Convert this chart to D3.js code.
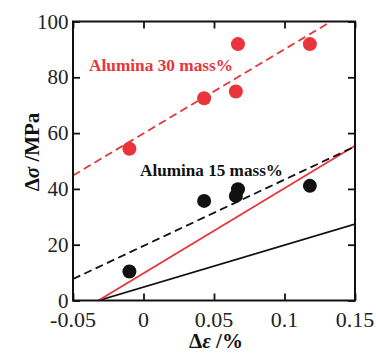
<!DOCTYPE html>
<html><head><meta charset="utf-8">
<script src="https://cdn.jsdelivr.net/npm/d3@7"></script>
<style>body{margin:0;background:#fff}</style>
</head><body>
<svg id="c" width="376" height="353"></svg>
<script>
const xTicks = [-0.05, 0, 0.05, 0.1, 0.15];
const yTicks = [0, 20, 40, 60, 80, 100];
const strain30 = [-0.010, 0.043, 0.0655, 0.067, 0.118];
const stress30 = [54.4, 72.5, 74.9, 91.9, 91.9];
const strain15 = [-0.010, 0.043, 0.0655, 0.067, 0.118];
const stress15 = [10.4, 35.7, 37.5, 39.9, 41.1];
// fit lines [x, y] endpoints
const fit30 = [[-0.05, 44.8], [0.133, 100]];
const fit15 = [[-0.05, 7.7], [0.15, 55.2]];
const model30 = [[-0.032, 0], [0.15, 55.5]];
const model15 = [[-0.032, 0], [0.15, 27.4]];

const red = "#e8343a";
const svg = d3.select("#c");
const m = {l:73, r:355, t:21.5, b:300.5};
const x = d3.scaleLinear().domain([-0.05, 0.15]).range([m.l, m.r]);
const y = d3.scaleLinear().domain([0, 100]).range([m.b, m.t]);
const font = "'Liberation Serif','Times New Roman',serif";

svg.append("clipPath").attr("id","pc").append("rect")
  .attr("x", m.l).attr("y", m.t).attr("width", m.r-m.l).attr("height", m.b-m.t);

const line = d3.line().x(d=>x(d[0])).y(d=>y(d[1]));
const g = svg.append("g").attr("clip-path","url(#pc)");
g.append("path").attr("d", line(model15)).attr("stroke","#111").attr("stroke-width",1.8).attr("fill","none");
g.append("path").attr("d", line(model30)).attr("stroke",red).attr("stroke-width",1.8).attr("fill","none");
g.append("path").attr("d", line(fit15)).attr("stroke","#111").attr("stroke-width",1.8).attr("fill","none").attr("stroke-dasharray","8,4.5");
g.append("path").attr("d", line(fit30)).attr("stroke",red).attr("stroke-width",1.8).attr("fill","none").attr("stroke-dasharray","8,4.5");

svg.append("g").selectAll("circle").data(d3.zip(strain15, stress15)).join("circle")
  .attr("cx", d=>x(d[0])).attr("cy", d=>y(d[1])).attr("r", 7).attr("fill","#111");
svg.append("g").selectAll("circle").data(d3.zip(strain30, stress30)).join("circle")
  .attr("cx", d=>x(d[0])).attr("cy", d=>y(d[1])).attr("r", 7).attr("fill",red);

// axes with inward ticks
const tl = 7;
const ax = [
  [d3.axisBottom(x), `translate(0,${m.b})`, xTicks],
  [d3.axisTop(x), `translate(0,${m.t})`, xTicks],
  [d3.axisLeft(y), `translate(${m.l},0)`, yTicks],
  [d3.axisRight(y), `translate(${m.r},0)`, yTicks]
];
ax.forEach(([a, tr, tv]) => {
  const gg = svg.append("g").attr("transform", tr)
    .call(a.tickValues(tv).tickSizeInner(-tl).tickSizeOuter(0).tickFormat(""));
  gg.select(".domain").remove();
  gg.selectAll("line").attr("stroke","#111").attr("stroke-width",1.8);
});
svg.append("rect").attr("x", m.l).attr("y", m.t).attr("width", m.r-m.l).attr("height", m.b-m.t)
  .attr("fill","none").attr("stroke","#111").attr("stroke-width",2);

svg.append("g").selectAll("text").data(xTicks).join("text")
  .attr("x", d=>x(d)).attr("y", 327).attr("text-anchor","middle")
  .attr("font-family", font).attr("font-size", 22).attr("fill","#222")
  .text(d=>d===0?"0":String(d));
svg.append("g").selectAll("text").data(yTicks).join("text")
  .attr("x", 68.5).attr("y", d=>y(d)+7).attr("text-anchor","end")
  .attr("font-family", font).attr("font-size", 21).attr("fill","#222")
  .text(d=>d);

svg.append("text").attr("x", 89).attr("y", 71).attr("font-family", font).attr("font-weight","bold")
  .attr("font-size", 17).attr("textLength", 144).attr("lengthAdjust","spacingAndGlyphs")
  .attr("fill", red).text("Alumina 30 mass%");
svg.append("text").attr("x", 140).attr("y", 176).attr("font-family", font).attr("font-weight","bold")
  .attr("font-size", 17).attr("textLength", 143).attr("lengthAdjust","spacingAndGlyphs")
  .attr("fill", "#111").text("Alumina 15 mass%");

const yt = svg.append("text").attr("transform","translate(39,152) rotate(-90)").attr("text-anchor","middle")
  .attr("font-family", font).attr("font-weight","bold").attr("font-size", 21).attr("fill","#111");
yt.append("tspan").text("Δ");
yt.append("tspan").attr("font-style","italic").text("σ");
yt.append("tspan").text(" /MPa");

const xt = svg.append("text").attr("x", 216).attr("y", 348).attr("text-anchor","middle")
  .attr("font-family", font).attr("font-weight","bold").attr("font-size", 21).attr("fill","#111");
xt.append("tspan").text("Δ");
xt.append("tspan").attr("font-style","italic").text("ε");
xt.append("tspan").text(" /%");
</script>
</body></html>
